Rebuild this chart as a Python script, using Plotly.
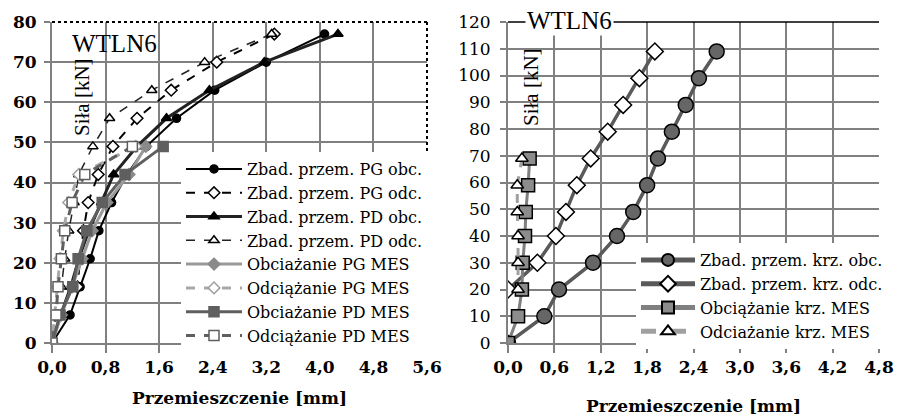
import plotly.graph_objects as go

# ---------------- Left chart data (Siła [kN] vs Przemieszczenie [mm]) ----------------
load_obc = [0, 7, 14, 21, 28, 35, 42, 49, 56, 63, 70, 77]
pg_obc_x = [0, 0.27, 0.42, 0.57, 0.70, 0.89, 1.12, 1.41, 1.86, 2.43, 3.20, 4.07]
pd_obc_x = [0, 0.13, 0.28, 0.40, 0.55, 0.74, 0.92, 1.27, 1.71, 2.35, 3.17, 4.27]

load_odc = [77, 70, 63, 56, 49, 42, 35, 28, 21, 14]
pg_odc_x = [3.32, 2.46, 1.78, 1.27, 0.91, 0.69, 0.54, 0.47, 0.42, 0.38]
pd_odc_x = [3.28, 2.28, 1.49, 0.86, 0.61, 0.40, 0.33, 0.25, 0.19, 0.14]

load_mes_obc = [0, 7, 14, 21, 28, 35, 42, 49]
pg_mes_obc_x = [0, 0.14, 0.30, 0.45, 0.60, 0.82, 1.15, 1.40]
pd_mes_obc_x = [0, 0.12, 0.31, 0.39, 0.52, 0.75, 1.09, 1.66]

load_mes_odc = [49, 42, 35, 28, 21, 14, 7, 0]
pg_mes_odc_x = [1.25, 0.40, 0.25, 0.17, 0.12, 0.08, 0.05, 0]
pd_mes_odc_x = [1.20, 0.49, 0.30, 0.19, 0.14, 0.09, 0.06, 0]

left_x_ticks = [0, 0.8, 1.6, 2.4, 3.2, 4.0, 4.8, 5.6]
left_x_labels = ["0,0", "0,8", "1,6", "2,4", "3,2", "4,0", "4,8", "5,6"]
left_y_ticks = [0, 10, 20, 30, 40, 50, 60, 70, 80]

# ---------------- Right chart data ----------------
krz_obc_load = [0, 10, 20, 30, 40, 49, 59, 69, 79, 89, 99, 109]
krz_obc_x = [0, 0.47, 0.66, 1.10, 1.41, 1.62, 1.80, 1.94, 2.12, 2.30, 2.47, 2.70]

krz_odc_load = [20, 30, 40, 49, 59, 69, 79, 89, 99, 109]
krz_odc_x = [0.0, 0.38, 0.62, 0.75, 0.89, 1.07, 1.29, 1.49, 1.70, 1.90]

krz_mes_obc_load = [0, 10, 20, 30, 40, 49, 59, 69]
krz_mes_obc_x = [0, 0.13, 0.18, 0.19, 0.22, 0.23, 0.26, 0.28]

krz_mes_odc_load = [69, 59, 49, 40, 30, 20]
krz_mes_odc_x = [0.18, 0.12, 0.12, 0.13, 0.13, 0.13]

right_x_ticks = [0, 0.6, 1.2, 1.8, 2.4, 3.0, 3.6, 4.2, 4.8]
right_x_labels = ["0,0", "0,6", "1,2", "1,8", "2,4", "3,0", "3,6", "4,2", "4,8"]
right_y_ticks = list(range(0, 121, 10))

SERIF = "Liberation Serif, serif"
WIDE = "DejaVu Serif, serif"
GRID = "#808080"

# page has an 8px body margin; the figure fills the rest of the 909x417 window
OFF = 8
W, H = 909 - OFF, 417 - OFF


def px(xp):
    return (xp - OFF) / W


def py(yp):
    return (417 - yp) / H


fig = go.Figure()


def add(x, y, name, color, width, dash, symbol, msize, mfill, mline, axis, legend):
    fig.add_trace(go.Scatter(
        x=x, y=y, name=name, mode="lines+markers",
        line=dict(color=color, width=width, dash=dash),
        marker=dict(symbol=symbol, size=msize, color=mfill,
                    line=dict(color=mline, width=1.5)),
        xaxis="x" if axis == 1 else "x2",
        yaxis="y" if axis == 1 else "y2",
        legend=legend,
    ))


# left chart traces
add(pg_obc_x, load_obc, "Zbad. przem. PG obc.", "#000000", 2, "solid", "circle", 8, "#000000", "#000000", 1, "legend")
add(pg_odc_x, load_odc, "Zbad. przem. PG odc.", "#000000", 2, "dash", "diamond", 9, "#ffffff", "#000000", 1, "legend")
add(pd_obc_x, load_obc, "Zbad. przem. PD obc.", "#222222", 3, "solid", "triangle-up", 9, "#000000", "#000000", 1, "legend")
add(pd_odc_x, load_odc, "Zbad. przem. PD odc.", "#222222", 1.5, "dash", "triangle-up", 9, "#ffffff", "#000000", 1, "legend")
add(pg_mes_obc_x, load_mes_obc, "Obciażanie PG MES", "#9a9a9a", 3, "solid", "diamond", 9, "#8a8a8a", "#8a8a8a", 1, "legend")
add(pg_mes_odc_x, load_mes_odc, "Odciążanie PG MES", "#a8a8a8", 3, "dash", "diamond", 9, "#ffffff", "#a0a0a0", 1, "legend")
add(pd_mes_obc_x, load_mes_obc, "Obciażanie PD MES", "#5f5f5f", 3, "solid", "square", 10, "#5f5f5f", "#5f5f5f", 1, "legend")
add(pd_mes_odc_x, load_mes_odc, "Odciążanie PD MES", "#5f5f5f", 3, "dash", "square", 10, "#ffffff", "#5f5f5f", 1, "legend")

# right chart traces
add(krz_obc_x, krz_obc_load, "Zbad. przem. krz. obc.", "#5a5a5a", 3.5, "solid", "circle", 15, "#666666", "#000000", 2, "legend2")
add(krz_odc_x, krz_odc_load, "Zbad. przem. krz. odc.", "#5a5a5a", 3.5, "solid", "diamond", 13, "#ffffff", "#000000", 2, "legend2")
add(krz_mes_obc_x, krz_mes_obc_load, "Obciążanie krz. MES", "#808080", 3, "solid", "square", 13, "#8c8c8c", "#000000", 2, "legend2")
add(krz_mes_odc_x, krz_mes_odc_load, "Odciażanie krz. MES", "#a0a0a0", 3, "dash", "triangle-up", 11, "#ffffff", "#000000", 2, "legend2")

ydom = [py(343), py(22)]
tickfont_b = dict(family=WIDE, size=17, color="#000000", weight="bold")
tickfont_r = dict(family=WIDE, size=17, color="#000000")
titlefont = dict(family=WIDE, size=17, color="#000000", weight="bold")

common_x = dict(showgrid=True, gridcolor=GRID, gridwidth=2, showline=True, linecolor=GRID,
                linewidth=2, ticks="outside", ticklen=8, tickcolor=GRID, tickwidth=2,
                zeroline=False, mirror=False, automargin=False)
common_y = dict(showgrid=True, gridcolor=GRID, gridwidth=2, showline=True, linecolor=GRID,
                linewidth=2, ticks="outside", ticklen=6, tickcolor=GRID, tickwidth=2,
                zeroline=False, mirror=False, automargin=False)

fig.update_layout(
    width=W, height=H,
    margin=dict(l=0, r=0, t=0, b=0, autoexpand=False),
    paper_bgcolor="#ffffff", plot_bgcolor="#ffffff",
    font=dict(family=SERIF, color="#000000"),
    xaxis=dict(domain=[px(52), px(427)], range=[0, 5.6], tickvals=left_x_ticks,
               ticktext=left_x_labels, tickfont=tickfont_b, anchor="y",
               title=dict(text="Przemieszczenie [mm]", font=titlefont, standoff=16), **common_x),
    yaxis=dict(domain=ydom, range=[0, 80], tickvals=left_y_ticks, tickfont=tickfont_b,
               anchor="x", ticklabelstandoff=4, **common_y),
    xaxis2=dict(domain=[px(508), px(879)], range=[0, 4.8], tickvals=right_x_ticks,
                ticktext=right_x_labels, tickfont=tickfont_b, anchor="y2",
                title=dict(text="Przemieszczenie [mm]", font=titlefont, standoff=24), **common_x),
    yaxis2=dict(domain=ydom, range=[0, 120], tickvals=right_y_ticks, tickfont=tickfont_r,
                anchor="x2", ticklabelstandoff=6, **common_y),
    legend=dict(x=px(181), y=py(152), xanchor="left", yanchor="top",
                bgcolor="#ffffff", font=dict(family=WIDE, size=16, color="#000000"),
                itemwidth=56, tracegroupgap=0, borderwidth=0),
    legend2=dict(x=px(636), y=py(243), xanchor="left", yanchor="top",
                 bgcolor="#ffffff", font=dict(family=WIDE, size=16, color="#000000"),
                 itemwidth=54, itemsizing="constant", tracegroupgap=0, borderwidth=0),
    showlegend=True,
)

# frame lines: dotted top/right on left chart, solid top on right chart
fig.add_shape(type="line", xref="x domain", yref="y domain", x0=0, x1=1, y0=1, y1=1,
              line=dict(color="#000000", width=2, dash="dot"))
fig.add_shape(type="line", xref="x domain", yref="y domain", x0=1, x1=1, y0=0, y1=1,
              line=dict(color="#000000", width=2, dash="dot"))
fig.add_shape(type="line", xref="x2 domain", yref="y2 domain", x0=0, x1=1, y0=1, y1=1,
              line=dict(color="#000000", width=1.5))

# inner labels
fig.add_annotation(text="WTLN6", xref="paper", yref="paper", x=px(114), y=py(43),
                   xanchor="center", yanchor="middle", showarrow=False,
                   font=dict(family=SERIF, size=25, color="#000000"))
fig.add_annotation(text="Siła [kN]", xref="paper", yref="paper", x=px(82), y=py(97),
                   xanchor="center", yanchor="middle", showarrow=False, textangle=-90,
                   font=dict(family=SERIF, size=21, color="#000000"))
fig.add_annotation(text="WTLN6", xref="paper", yref="paper", x=px(569), y=py(21),
                   xanchor="center", yanchor="middle", showarrow=False, bgcolor="#ffffff",
                   font=dict(family=SERIF, size=25, color="#000000"))
fig.add_annotation(text="Siła [kN]", xref="paper", yref="paper", x=px(531), y=py(87),
                   xanchor="center", yanchor="middle", showarrow=False, textangle=-90,
                   font=dict(family=SERIF, size=21, color="#000000"))

fig.write_html("out.html")
